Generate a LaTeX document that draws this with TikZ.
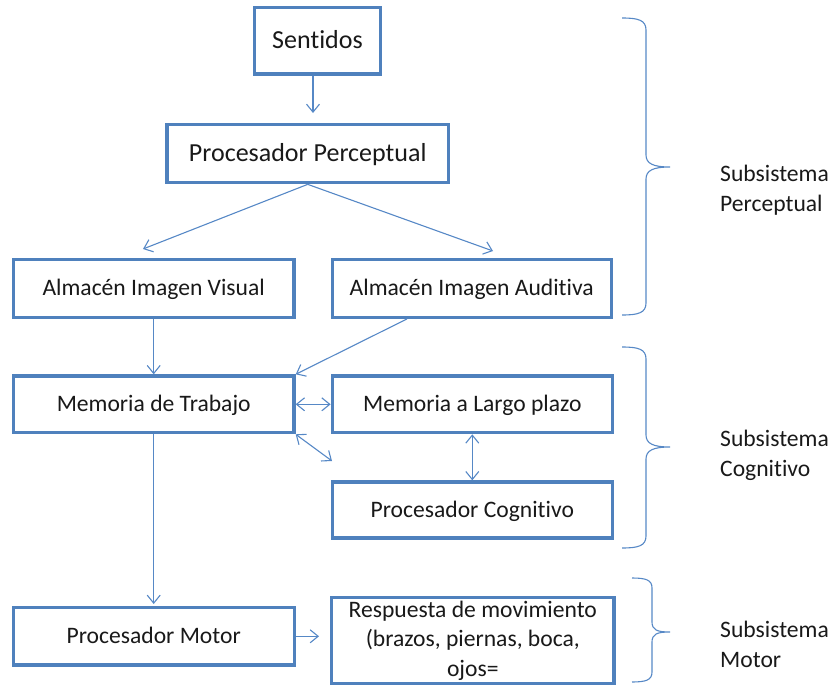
\documentclass[tikz,border=0pt]{standalone}
\usepackage{fontspec}
\setmainfont[Ligatures=NoCommon]{Carlito}
\usetikzlibrary{arrows.meta,calc}
\definecolor{boxblue}{RGB}{79,129,189}
\definecolor{linkblue}{RGB}{86,136,198}
\definecolor{inktext}{RGB}{25,25,25}
\begin{document}
\begin{tikzpicture}[x=1pt,y=-1pt,
  plainbox/.style={draw=boxblue,line width=3.3pt,fill=white,inner sep=0pt,text=inktext,
    font=\fontsize{23.6}{29.5}\selectfont},
  box/.style={plainbox,text height=14.9pt,text depth=0pt},
  bigbox/.style={plainbox,font=\fontsize{26}{31}\selectfont,text height=16.4pt,text depth=0pt},
  conn/.style={draw=linkblue,line width=1.1pt,-{Straight Barb[length=8pt,width=13pt]}},
  dconn/.style={draw=linkblue,line width=1.1pt,
    {Straight Barb[length=8pt,width=13pt]}-{Straight Barb[length=8pt,width=13pt]}},
  brace/.style={draw=linkblue,line width=1.1pt},
  sublabel/.style={anchor=base west,align=left,inner sep=0pt,text=inktext,
    font=\fontsize{23.6}{29.5}\selectfont}]

\useasboundingbox (0,0) rectangle (836,685);

% processing boxes
\node[bigbox,minimum width=126.5pt,minimum height=66.7pt] (sent) at (317.5,40.7) {Sentidos};
\node[bigbox,minimum width=281.3pt,minimum height=58.4pt] (pp) at (307.7,153.5) {Procesador Perceptual};
\node[box,minimum width=280.7pt,minimum height=58pt] (aiv) at (153.7,288.3) {Almacén Imagen Visual};
\node[box,minimum width=279pt,minimum height=58pt] (aia) at (471.7,288.3) {Almacén Imagen Auditiva};
\node[box,minimum width=280.7pt,minimum height=56.7pt] (mdt) at (153.7,404.3) {Memoria de Trabajo};
\node[box,minimum width=280pt,minimum height=56.7pt] (mlp) at (472.3,404.3) {Memoria a Largo plazo};
\node[box,minimum width=280pt,minimum height=56pt] (pc) at (472.3,510) {Procesador Cognitivo};
\node[box,minimum width=281pt,minimum height=57.3pt] (pm) at (153.7,636.3) {Procesador Motor};
\node[plainbox,align=center,minimum width=282.3pt,minimum height=86pt] (resp) at (472.8,640.7)
  {Respuesta de movimiento\\(brazos, piernas, boca,\\ojos=};

% free ends of connectors
\coordinate (t1) at (313,113);
\coordinate (t2) at (143,249);
\coordinate (t3) at (493,251);
\coordinate (s5) at (407,318);
\coordinate (t7) at (332,461);

% connectors
\draw[conn] (sent.south -| t1) -- (t1);
\draw[conn] (pp.south) -- (t2);
\draw[conn] (pp.south) -- (t3);
\draw[conn] (aiv) -- (mdt);
\draw[conn] (aia.south -| s5) -- (mdt.north east);
\draw[dconn] (mdt.east) -- (mlp.west);
\draw[dconn] (mdt.south east) -- (t7);
\draw[dconn] (mlp) -- (pc);
\draw[conn,shorten >=2pt] (mdt) -- (pm);
\draw[conn,shorten >=11pt] (pm.east) -- (pm.east -| resp.west);

% subsystem braces
\draw[brace] (622,18) .. controls (638,18) and (646,20) .. (646,30) -- (646,155)
  .. controls (646,164) and (654,167) .. (670,167)
  .. controls (654,167) and (646,170) .. (646,179) -- (646,303)
  .. controls (646,313) and (638,315) .. (622,315);
\draw[brace] (622,347) .. controls (638,347) and (646,349) .. (646,359) -- (646,435)
  .. controls (646,444) and (654,447) .. (670,447)
  .. controls (654,447) and (646,450) .. (646,459) -- (646,536)
  .. controls (646,546) and (638,548) .. (622,548);
\draw[brace] (632,578) .. controls (646,578) and (652,580) .. (652,588) -- (652,622)
  .. controls (652,630) and (657,632) .. (670,632)
  .. controls (657,632) and (652,634) .. (652,642) -- (652,672)
  .. controls (652,680) and (646,682) .. (632,682);

% subsystem labels (anchored at the baseline of their second line)
\node[sublabel] (lp) at (720,211) {Subsistema\\Perceptual};
\node[sublabel] (lc) at (720,476) {Subsistema\\Cognitivo};
\node[sublabel] (lm) at (720,667) {Subsistema\\Motor};
\end{tikzpicture}
\end{document}
